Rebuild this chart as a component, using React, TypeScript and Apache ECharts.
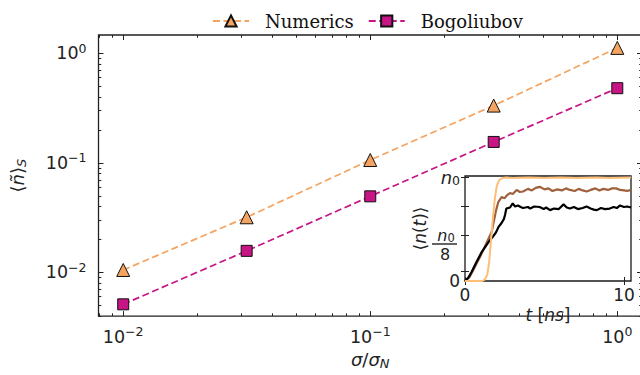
import React, { useEffect, useRef } from 'react';
import * as echarts from 'echarts';

// ---- main panel data ----
const sigmaRatio = [0.01, 0.0316, 0.1, 0.316, 1.0];
const numerics = [0.0105, 0.0318, 0.106, 0.333, 1.12];
const bogoliubov = [0.0051, 0.0157, 0.0494, 0.155, 0.48];
const majorTicks = [0.01, 0.1, 1];

// ---- inset data: t [ns] and <n(t)>/n0 ----
const brownT = [0, 0.3, 0.5, 0.73, 1.0, 1.36, 1.68, 1.95, 2.1, 2.3, 2.5, 2.65, 2.83, 3.0, 3.25, 3.45, 3.65, 3.96, 4.2, 4.45, 4.7, 5.0, 5.25, 5.5, 5.8, 6.1, 6.35, 6.6, 6.9, 7.15, 7.4, 7.65, 7.9, 8.2, 8.45, 8.7, 9.0, 9.25, 9.5, 9.75, 10.0, 10.2, 10.44];
const brownN = [0, 0.04, 0.1, 0.17, 0.25, 0.37, 0.475, 0.68, 0.765, 0.81, 0.8, 0.83, 0.85, 0.84, 0.88, 0.86, 0.865, 0.89, 0.875, 0.9, 0.91, 0.885, 0.895, 0.87, 0.885, 0.875, 0.895, 0.88, 0.87, 0.89, 0.875, 0.865, 0.88, 0.895, 0.875, 0.89, 0.88, 0.895, 0.895, 0.88, 0.875, 0.87, 0.88];
const blackT = [0, 0.2, 0.42, 0.73, 1.05, 1.36, 1.55, 1.76, 1.95, 2.1, 2.3, 2.45, 2.52, 2.6, 2.83, 3.0, 3.15, 3.33, 3.5, 3.65, 3.96, 4.1, 4.35, 4.7, 4.95, 5.1, 5.35, 5.6, 5.9, 6.2, 6.4, 6.6, 6.85, 7.1, 7.4, 7.65, 7.9, 8.1, 8.3, 8.55, 8.8, 9.1, 9.35, 9.55, 9.75, 10.0, 10.2, 10.44];
const blackN = [0, 0.03, 0.09, 0.185, 0.28, 0.35, 0.39, 0.43, 0.47, 0.52, 0.56, 0.6, 0.64, 0.7, 0.71, 0.75, 0.72, 0.73, 0.715, 0.705, 0.715, 0.7, 0.72, 0.715, 0.695, 0.71, 0.685, 0.7, 0.695, 0.74, 0.71, 0.7, 0.715, 0.695, 0.705, 0.72, 0.7, 0.69, 0.685, 0.705, 0.695, 0.7, 0.715, 0.705, 0.73, 0.715, 0.72, 0.71];
const orangeT = [0, 1.1, 1.25, 1.4, 1.52, 1.64, 1.76, 1.88, 2.0, 2.15, 2.35, 2.6, 3.0, 4.0, 5.0, 6.0, 7.0, 8.3, 9.0, 10.44];
const orangeN = [0, 0, 0.015, 0.06, 0.18, 0.4, 0.62, 0.8, 0.92, 0.975, 0.995, 1.0, 0.995, 1.0, 0.995, 1.0, 0.995, 1.0, 0.995, 1.0];
const insetXTicks = [0, 10];
const insetYTicks = [0.097, 0.444, 0.725, 1.0];
const insetYLabels = [0, 1];

const SANS = 'DejaVu Sans';
const SERIF = 'DejaVu Serif';
const INK = '#222';

const zip = (a: number[], b: number[]) => a.map((v, i) => [v, b[i]]);

function minorValues(lo: number, hi: number) {
  const out: number[] = [];
  for (let d = -3; d <= 0; d++) {
    for (let k = 2; k <= 9; k++) {
      const v = k * Math.pow(10, d);
      if (v > lo && v < hi) out.push(v);
    }
  }
  return out;
}

const xMin = Math.pow(10, -2.1);
const xMax = Math.pow(10, 0.1);
const yMin = Math.pow(10, -2.4);
const yMax = Math.pow(10, 0.167);

const powRich = {
  b: { fontSize: 17.5, fontFamily: SANS, color: INK },
  s: { fontSize: 12.5, fontFamily: SANS, color: INK, padding: [0, 0, 10, 0] },
};
const powFmt = (v: number) => {
  const e = Math.round(Math.log10(v));
  return `{b|10}{s|${e < 0 ? '\u2212' + -e : e}}`;
};

function logAxis(kind: 'x' | 'y', position: string, major: boolean, labels: boolean, min: number, max: number) {
  return {
    type: 'log',
    gridIndex: 0,
    position,
    min,
    max,
    logBase: 10,
    axisLine: { show: false },
    splitLine: { show: false },
    axisTick: {
      show: true,
      inside: true,
      length: major ? 5 : 2.8,
      lineStyle: { color: INK, width: 1 },
      customValues: major ? majorTicks : minorValues(min, max),
    },
    axisLabel: labels
      ? { show: true, customValues: majorTicks, formatter: powFmt, rich: powRich, margin: kind === 'x' ? 9 : 12 }
      : { show: false },
  };
}

function buildOption() {
  const xAxes: any[] = [
    { ...logAxis('x', 'bottom', true, true, xMin, xMax), name: '{i|\u03c3}{a|/}{i|\u03c3}{s|N}', nameLocation: 'middle', nameGap: 30,
      nameTextStyle: { rich: {
        a: { fontSize: 18, fontFamily: SANS, color: INK },
        i: { fontSize: 18, fontFamily: SANS, fontStyle: 'italic', color: INK },
        s: { fontSize: 13, fontFamily: SANS, fontStyle: 'italic', color: INK, padding: [8, 0, 0, 0] },
      } } },
    logAxis('x', 'bottom', false, false, xMin, xMax),
    logAxis('x', 'top', true, false, xMin, xMax),
    logAxis('x', 'top', false, false, xMin, xMax),
    {
      type: 'value', gridIndex: 1, position: 'bottom', min: 0, max: 10.44,
      axisLine: { show: false }, splitLine: { show: false },
      axisTick: { inside: true, length: 4, customValues: insetXTicks, lineStyle: { color: INK } },
      axisLabel: { customValues: insetXTicks, fontSize: 17, fontFamily: SANS, color: INK, margin: 5 },
      name: '{i|t}{a| [}{i|ns}{a|]}', nameLocation: 'middle', nameGap: 25,
      nameTextStyle: { rich: {
        a: { fontSize: 17, fontFamily: SANS, color: INK },
        i: { fontSize: 17, fontFamily: SANS, fontStyle: 'italic', color: INK },
      } },
    },
    {
      type: 'value', gridIndex: 1, position: 'top', min: 0, max: 10.44,
      axisLine: { show: false }, splitLine: { show: false },
      axisTick: { inside: true, length: 4, customValues: insetXTicks, lineStyle: { color: INK } },
      axisLabel: { show: false },
    },
  ];
  const yAxes: any[] = [
    { ...logAxis('y', 'left', true, true, yMin, yMax), name: '{a|\u27e8}{i|\u00f1}{a|\u27e9}{s|S}', nameLocation: 'middle', nameGap: 71, nameRotate: 90,
      nameTextStyle: { rich: {
        a: { fontSize: 18, fontFamily: SANS, color: INK },
        i: { fontSize: 18, fontFamily: SANS, fontStyle: 'italic', color: INK },
        s: { fontSize: 13, fontFamily: SANS, fontStyle: 'italic', color: INK, padding: [8, 0, 0, 0] },
      } } },
    logAxis('y', 'left', false, false, yMin, yMax),
    logAxis('y', 'right', true, false, yMin, yMax),
    logAxis('y', 'right', false, false, yMin, yMax),
    {
      type: 'value', gridIndex: 1, position: 'left', min: 0, max: 1.0145,
      axisLine: { show: false }, splitLine: { show: false },
      axisTick: { inside: true, length: 4, customValues: insetYTicks, lineStyle: { color: INK } },
      axisLabel: {
        customValues: insetYLabels, margin: 5,
        formatter: (v: number) => (v === 0 ? '{b|0}' : '{i|n}{s|0}'),
        rich: {
          b: { fontSize: 17, fontFamily: SANS, color: INK },
          i: { fontSize: 18, fontFamily: SANS, fontStyle: 'italic', color: INK },
          s: { fontSize: 12.5, fontFamily: SANS, color: INK, padding: [6, 0, 0, 0] },
        },
      },
      name: '{a|\u27e8}{i|n}{a|(}{i|t}{a|)\u27e9}', nameLocation: 'middle', nameGap: 37, nameRotate: 90,
      nameTextStyle: { rich: {
        a: { fontSize: 17, fontFamily: SANS, color: INK },
        i: { fontSize: 17, fontFamily: SANS, fontStyle: 'italic', color: INK },
      } },
    },
    {
      type: 'value', gridIndex: 1, position: 'right', min: 0, max: 1.0145,
      axisLine: { show: false }, splitLine: { show: false },
      axisTick: { inside: true, length: 4, customValues: insetYTicks, lineStyle: { color: INK } },
      axisLabel: { show: false },
    },
  ];

  const mainLine = (name: string, data: number[], color: string, symbol: string, size: number) => ({
    name,
    type: 'line',
    xAxisIndex: 0,
    yAxisIndex: 0,
    data: zip(sigmaRatio, data),
    symbol,
    symbolSize: size,
    showAllSymbol: true,
    lineStyle: { color, width: 1.7, type: [7, 3.5] },
    itemStyle: { color, borderColor: '#111', borderWidth: 1 },
    z: 3,
  });
  const insetLine = (t: number[], n: number[], color: string, width: number) => ({
    type: 'line',
    xAxisIndex: 4,
    yAxisIndex: 4,
    data: zip(t, n),
    symbol: 'none',
    lineStyle: { color, width },
    z: 5,
  });

  const fracRich = {
    i: { fontSize: 16, fontFamily: SANS, fontStyle: 'italic', fill: INK },
    s: { fontSize: 11.5, fontFamily: SANS, fill: INK, padding: [5, 0, 0, 0] },
  };

  return {
    animation: false,
    backgroundColor: '#fff',
    grid: [
      { left: 97, top: 35, width: 545, height: 285, show: true, borderColor: '#222', borderWidth: 1.3, backgroundColor: 'transparent' },
      { left: 465, top: 176, width: 166, height: 105, show: true, borderColor: '#1a1a1a', borderWidth: 1.3, backgroundColor: '#fff' },
    ],
    legend: {
      data: ['Numerics', 'Bogoliubov'],
      left: 207,
      top: 7,
      itemWidth: 36,
      itemHeight: 14,
      itemGap: 14,
      textStyle: { fontFamily: SERIF, fontSize: 18, color: '#111', padding: [0, 0, 0, 11] },
    },
    xAxis: xAxes,
    yAxis: yAxes,
    series: [
      mainLine('Numerics', numerics, '#F4A460', 'triangle', 13),
      mainLine('Bogoliubov', bogoliubov, '#C71585', 'rect', 11),
      insetLine(brownT, brownN, '#A0603C', 2.2),
      insetLine(blackT, blackN, '#000000', 2.2),
      insetLine(orangeT, orangeN, '#FDBE78', 2),
    ],
    graphic: [
      { type: 'text', x: 446, y: 235, z: 10, style: { text: '{i|n}{s|0}', align: 'center', verticalAlign: 'middle', rich: fracRich } },
      { type: 'line', z: 10, shape: { x1: 432, y1: 244, x2: 457, y2: 244 }, style: { stroke: INK, lineWidth: 1.4 } },
      { type: 'text', x: 445, y: 254, z: 10, style: { text: '8', align: 'center', verticalAlign: 'middle', fontSize: 16, fontFamily: SANS, fill: INK } },
    ],
  };
}

export default function App() {
  const ref = useRef<HTMLDivElement>(null);
  useEffect(() => {
    if (!ref.current) return;
    const chart = echarts.init(ref.current, null, { renderer: 'svg' });
    chart.setOption(buildOption() as any);
    return () => chart.dispose();
  }, []);
  return (
    <div style={{ position: 'fixed', left: 0, top: 0, width: 640, height: 375, overflow: 'hidden', background: '#fff' }}>
      <div ref={ref} style={{ width: 650, height: 375 }} />
    </div>
  );
}
